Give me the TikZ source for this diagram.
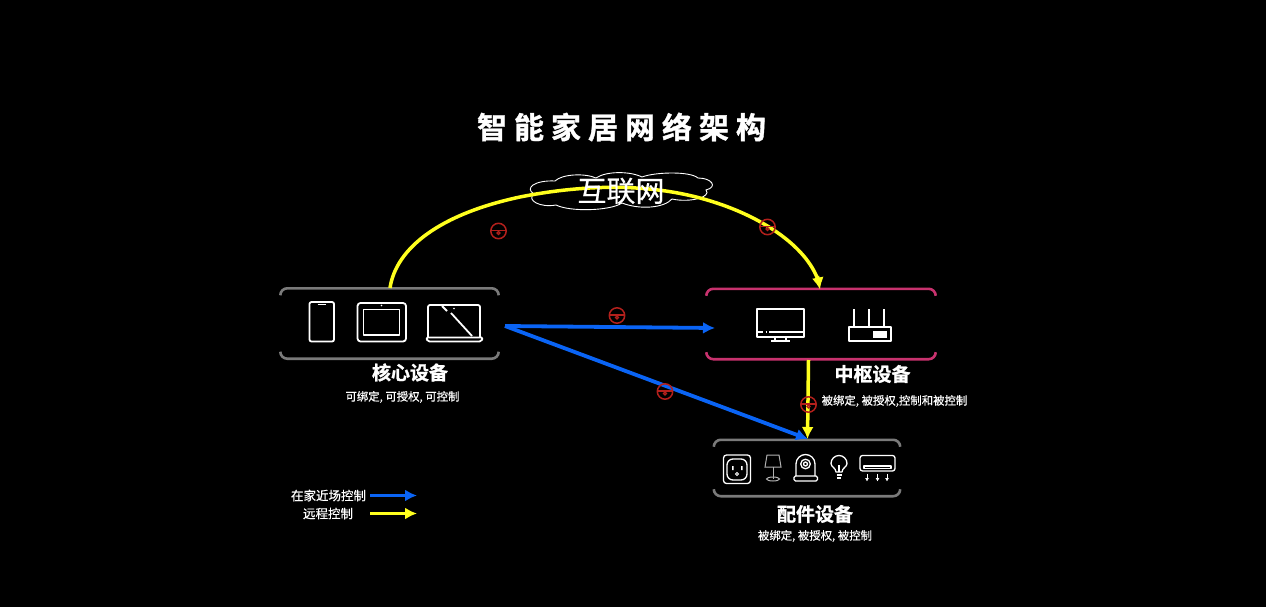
\documentclass[tikz,border=0pt]{standalone}
\usepackage{fontspec}
\setmainfont{Noto Sans CJK SC}
\newfontfamily\headfont[FakeBold=1.2]{Noto Sans CJK SC Bold}
\newfontfamily\subfont[FakeBold=0.5]{Noto Sans CJK SC}
\usetikzlibrary{arrows.meta}
\definecolor{myyellow}{HTML}{FFFF1E}
\definecolor{myblue}{HTML}{0A64F5}
\definecolor{lockred}{HTML}{B3201C}
\definecolor{boxgrey}{HTML}{7A7A7A}
\definecolor{boxpink}{HTML}{C8326E}
\tikzset{
  x=1pt,y=-1pt,
  icon/.style={draw=white,line width=1.8pt,line join=round},
  iconthin/.style={draw=white,line width=1.3pt,line join=round},
  bracket/.style={line width=2.6pt,rounded corners=7pt},
  boxnode/.style={inner sep=0pt,minimum width=#1},
  yline/.style={draw=myyellow,line width=3.5pt},
  bline/.style={draw=myblue,line width=3.8pt},
  ytip/.style={-{Latex[length=12pt,width=12pt]}},
  btip/.style={-{Latex[length=12pt,width=12pt]}},
  heading/.style={text=white,font=\headfont\fontsize{19}{19}\selectfont,inner sep=0pt},
  subheading/.style={text=white,font=\subfont\fontsize{11.4}{12}\selectfont,inner sep=0pt},
  legendtext/.style={text=white,font=\subfont\fontsize{12.5}{13}\selectfont,inner sep=0pt},
  lockicon/.pic={
    \draw[lockred,line width=1.5pt] (0,0) circle (7.7);
    \draw[lockred,line width=1.5pt] (-7.7,-0.5) -- (7.7,-0.5);
    \draw[lockred,line width=1.2pt] (0,2) circle (1.5);
  }
}
\begin{document}
\begin{tikzpicture}
\useasboundingbox[fill=black] (0,0) rectangle (1266,607);

% title
\node[text=white,inner sep=0pt,font=\headfont\fontsize{30}{30}\selectfont] (title) at (621.5,127) {智\hspace{7pt}能\hspace{7pt}家\hspace{7pt}居\hspace{7pt}网\hspace{7pt}络\hspace{7pt}架\hspace{7pt}构};

% anchor nodes for the device groups
\node[boxnode=218pt,minimum height=70pt] (core) at (389.5,323.5) {};
\node[boxnode=229pt,minimum height=70pt] (hub) at (821,324) {};
\node[boxnode=186pt,minimum height=56pt] (acc) at (807,468) {};

% brackets
\foreach \n/\c in {core/boxgrey,hub/boxpink,acc/boxgrey}{
  \draw[bracket,draw=\c] (\n.north west)++(0,7) |- (\n.north east) -- ++(0,7);
  \draw[bracket,draw=\c] (\n.south west)++(0,-7) |- (\n.south east) -- ++(0,-7);
}

% cloud
\node[inner sep=0pt] (cloud) at (621,191) {};
\draw[fill=black,draw=white,line width=0.9pt] (555,181)
  .. controls (562,174) and (585,173) .. (596,178)
  .. controls (606,171) and (630,171) .. (642,177)
  .. controls (655,172) and (690,171) .. (698,178)
  .. controls (712,178) and (718,187) .. (706,190)
  .. controls (712,197) and (690,203) .. (672,199)
  .. controls (664,208) and (640,210) .. (622,203)
  .. controls (610,211) and (570,212) .. (556,205)
  .. controls (540,208) and (526,200) .. (534,194)
  .. controls (524,188) and (535,180) .. (555,181) -- cycle;

% named ends for the connectors
\coordinate (coreTop) at (390,288);
\coordinate (hubTop) at (820,289.5);
\coordinate (hubBot) at (808.5,360);
\coordinate (accTop) at (807.5,439);
\coordinate (coreRight) at (505,326);
\coordinate (hubLeft) at (715,328);
\coordinate (accTopB) at (808,439);

% connectors
\draw[bline,btip] (coreRight) -- (hubLeft);
\draw[bline,btip] (coreRight) -- (accTopB);
\draw[yline] (coreTop) .. controls (396,248) and (440,214) .. (520,197)
  .. controls (575,186) and (640,182) .. (700,198)
  .. controls (760,214) and (806,246) .. (818,280);
\draw[yline,ytip] (817.5,276) -- (hubTop);
\draw[yline,ytip] (hubBot) -- (accTop);

% cloud label above the arc
\node[text=white,inner sep=0pt,font=\subfont\fontsize{29}{29}\selectfont] (cloudtext) at (621,191) {互联网};

% locks
\pic at (498.5,231) {lockicon};
\pic at (767.5,227) {lockicon};
\pic at (617,315.5) {lockicon};
\pic at (665,391.5) {lockicon};
\pic at (808.5,404.5) {lockicon};

% phone
\draw[icon,rounded corners=2pt] (309.5,302) rectangle (334,341.5);
\draw[iconthin] (317.5,304.5) -- (326,304.5);
% tablet
\draw[icon,rounded corners=3pt] (357.5,303) rectangle (406,341.5);
\draw[icon] (363.5,309.5) rectangle (399.5,335);
\fill[white] (381.5,305.5) circle (0.8);
% laptop
\draw[icon,rounded corners=2pt] (428,337) -- (428,305) -- (480,305) -- (480,337);
\draw[icon,rounded corners=1.5pt] (426,337.5) -- (483,337.5) -- (481,341.5) -- (428,341.5) -- cycle;
\draw[icon] (442,306) -- (447,311);
\draw[icon] (451,313) -- (472,336);
\fill[white] (454,308.5) circle (0.9);

% monitor
\draw[icon] (757,309) rectangle (804,337);
\draw[iconthin] (757,332) -- (763,332) (765.5,332) -- (767,332) (769,332) -- (804,332);
\draw[iconthin] (775,337) -- (775,341) (786,337) -- (786,341) (771,341) -- (790,341);
% router
\draw[icon] (849,327) rectangle (891,341);
\draw[iconthin] (854,309) -- (854,327) (869,309) -- (869,327) (884,309) -- (884,327);
\fill[white] (873,331) rectangle (887,338);

% outlet
\draw[iconthin,rounded corners=3pt] (723.5,455) rectangle (750.5,483.5);
\draw[iconthin,rounded corners=6pt] (727,459) rectangle (747,480);
\fill[white] (732,466) rectangle (733.5,470) (741,466) rectangle (742.5,470);
\draw[white,line width=1pt] (737,474) circle (1.5);
% lamp
\draw[draw=white!70!black,line width=1pt] (767,455) -- (779,455) -- (781,467) -- (765,467) -- cycle;
\draw[draw=white!70!black,line width=1pt] (773,467) -- (773,479);
\draw[draw=white!70!black,line width=1pt] (773,479) ellipse (6.5 and 2);
% camera
\draw[iconthin] (796,476) -- (796,464) arc[start angle=180,end angle=360,radius=9.5] -- (815,476);
\draw[iconthin] (805.5,464) circle (4.8);
\draw[iconthin] (805.5,464) circle (2);
\draw[iconthin,rounded corners=1.5pt] (794,476) rectangle (817.5,481);
% bulb
\draw[iconthin] (836,472) .. controls (836,468) and (831,467) .. (831,463.5) arc[start angle=180,end angle=360,radius=8] .. controls (847,467) and (842,468) .. (842,472) -- cycle;
\draw[iconthin] (839,472) -- (839,465);
\draw[iconthin] (836.5,475) -- (841.5,475) (837,478) -- (841,478);
% air conditioner
\draw[iconthin,rounded corners=2.5pt] (860,455.5) rectangle (895,471);
\draw[iconthin] (864,466) rectangle (891,468.5);
\foreach \x in {867,877.5,887}{
  \draw[white,line width=0.9pt,-{Latex[length=3.5pt,width=4pt]}] (\x,474) -- (\x,481.5);
}

% labels
\node[heading] (coreT) at (410,372.5) {核心设备};
\node[subheading] (coreS) at (402.5,397) {可绑定, 可授权, 可控制};
\node[heading] (hubT) at (872.5,374) {中枢设备};
\node[subheading] (hubS) at (894.5,401) {被绑定, 被授权,控制和被控制};
\node[heading] (accT) at (815,514) {配件设备};
\node[subheading] (accS) at (815,536) {被绑定, 被授权, 被控制};

% legend
\node[legendtext] (legA) at (328.5,495.5) {在家近场控制};
\node[legendtext] (legB) at (328,513.5) {远程控制};
\coordinate (legA1) at (370,495.5); \coordinate (legA2) at (417,495.5);
\coordinate (legB1) at (370,513.5); \coordinate (legB2) at (417,513.5);
\draw[bline,btip] (legA1) -- (legA2);
\draw[yline,btip] (legB1) -- (legB2);
\end{tikzpicture}
\end{document}
